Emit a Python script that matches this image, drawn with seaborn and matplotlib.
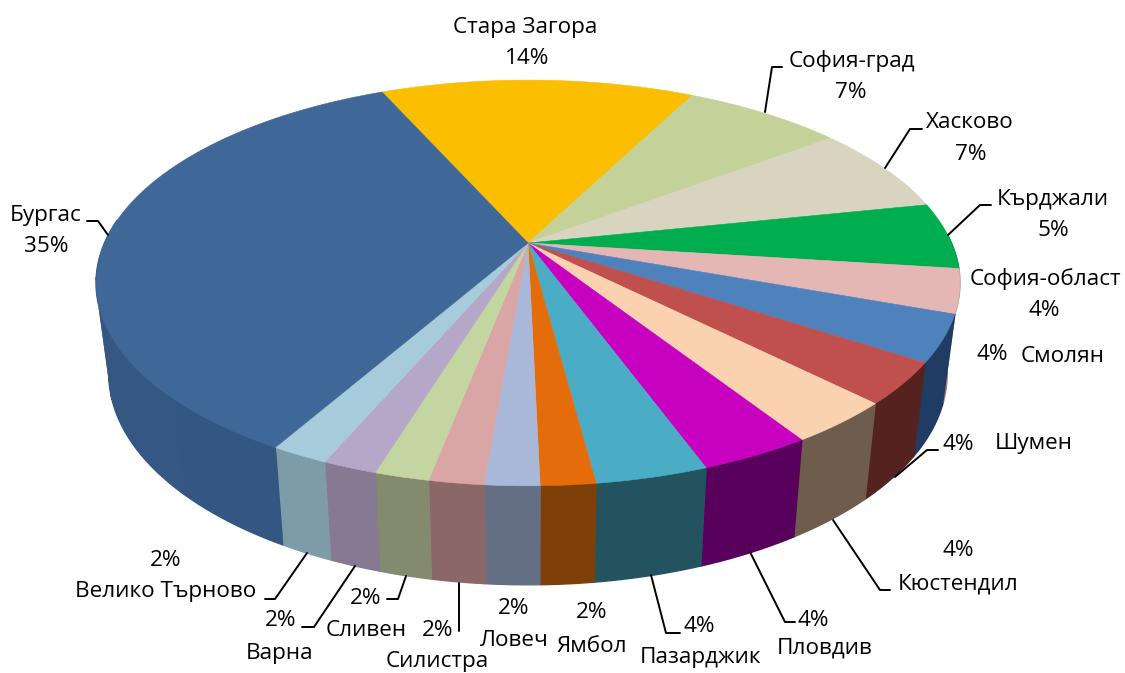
import numpy as np
import matplotlib
matplotlib.use('Agg')
import matplotlib.pyplot as plt
import seaborn as sns

# data, in the order of the slices (clockwise from the back)
regions = ['Стара Загора', 'София-град', 'Хасково', 'Кърджали', 'София-област', 'Смолян',
           'Шумен', 'Кюстендил', 'Пловдив', 'Пазарджик', 'Ямбол', 'Ловеч', 'Силистра',
           'Сливен', 'Варна', 'Велико Търново', 'Бургас']
shares = [14.2, 7.2, 7.0, 5.3, 3.5, 3.7, 3.3, 3.4, 3.5, 3.5, 1.7, 1.7, 1.7, 1.7, 1.7, 1.8, 35.1]
pct_labels = ['14%', '7%', '7%', '5%', '4%', '4%', '4%', '4%', '4%', '4%',
              '2%', '2%', '2%', '2%', '2%', '2%', '35%']

top_colors = ['#FBBE00', '#C4D29A', '#D8D4BF', '#00AE4F', '#E4B6B4', '#4F81BD', '#C0504D',
              '#FAD2B0', '#C800C0', '#4BACC6', '#E46C0A', '#A9B8D8', '#D9A5A5', '#C3D5A0',
              '#B4A7C7', '#A6CBDA', '#3F6797']
side_colors = ['#A98000', '#83906A', '#918E7F', '#007535', '#9A7B7A', '#1F3A5F', '#53211E',
               '#6B5A4A', '#55005A', '#24525F', '#7F3F08', '#656F84', '#8A6667', '#82896D',
               '#85778F', '#7C99A5', '#33547F']

sns.set_theme(style='white')
plt.rcParams['font.family'] = ['Open Sans', 'DejaVu Sans']

# perspective of the pie
cx = 528
apex_y = 243
start_angle = 114
persp = 0.197


def project(theta, width, height, y0):
    u, v = np.cos(theta), np.sin(theta)
    w = 1 + persp * v
    return cx + width * u / w, y0 - height * v / w


def top_rim(theta):
    return project(theta, 423.5, 195, apex_y)


def low_rim(theta):
    return project(theta, 411, 203, 332)


fig, ax = plt.subplots(figsize=(11.25, 6.73), dpi=100)
fig.subplots_adjust(0, 0, 1, 1)
ax.set_xlim(0, 1125)
ax.set_ylim(673, 0)
ax.axis('off')

tops = sns.color_palette(top_colors)
sides = sns.color_palette(side_colors)
edges = start_angle - np.cumsum([0] + shares) / sum(shares) * 360

# walls first, only the front part can be seen
for i in range(len(shares)):
    a0, a1 = edges[i], edges[i + 1]
    n = max(1, int(abs(a1 - a0) / 8))
    steps = np.radians(np.linspace(a0, a1, n + 1))
    for j in range(n):
        th = np.linspace(steps[j], steps[j + 1], 12)
        if np.sin(th[5]) > 0.05:
            continue
        # slight banding, the wall gets lighter towards the sides
        shade = 1 + 0.04 * abs(np.cos(th[5]))
        col = np.clip(np.array(sides[i]) * shade, 0, 1)
        xt, yt = top_rim(th)
        xb, yb = low_rim(th)
        ax.fill(np.r_[xt, xb[::-1]], np.r_[yt, yb[::-1]], facecolor=col, edgecolor=col, lw=1.0, zorder=2)

# top of the pie
for i in range(len(shares)):
    th = np.radians(np.linspace(edges[i], edges[i + 1], 80))
    xt, yt = top_rim(th)
    ax.fill(np.r_[cx, xt], np.r_[apex_y, yt], color=tops[i], lw=0.4, zorder=3)

# labels: name position, percent position
label_pos = {
    'Стара Загора': ((525, 26), (527, 58)),
    'София-град': ((852, 60), (851, 92)),
    'Хасково': ((970, 122), (971, 153)),
    'Кърджали': ((1053, 198), (1053, 229)),
    'София-област': ((1045, 278), (1044, 310)),
    'Смолян': ((1063, 355), (992, 354)),
    'Шумен': ((1034, 443), (958, 443)),
    'Кюстендил': ((958, 583), (958, 550)),
    'Пловдив': ((825, 647), (813, 620)),
    'Пазарджик': ((700, 657), (699, 626)),
    'Ямбол': ((592, 646), (592, 612)),
    'Ловеч': ((514, 640), (514, 608)),
    'Силистра': ((437, 660), (438, 629)),
    'Сливен': ((366, 630), (366, 598)),
    'Варна': ((280, 652), (281, 620)),
    'Велико Търново': ((166, 591), (166, 559)),
    'Бургас': ((46, 214), (46, 246)),
}
for name, pct in zip(regions, pct_labels):
    p_name, p_pct = label_pos[name]
    ax.text(p_name[0], p_name[1] + 1, name, ha='center', va='center', fontsize=16.2, color='black', zorder=5)
    ax.text(p_pct[0], p_pct[1] + 1, pct, ha='center', va='center', fontsize=16.2, color='black', zorder=5)

leaders = [
    [(765, 112), (772, 67), (782, 67)],
    [(885, 168), (910, 129), (922, 129)],
    [(948, 235), (980, 205), (991, 205)],
    [(895, 477), (927, 450), (938, 450)],
    [(833, 520), (880, 590), (890, 590)],
    [(750, 552), (785, 622), (795, 622)],
    [(651, 575), (666, 633), (680, 633)],
    [(459, 583), (459, 631)],
    [(406, 576), (398, 599), (387, 599)],
    [(355, 566), (314, 627), (302, 627)],
    [(307, 553), (275, 599), (265, 599)],
    [(108, 235), (98, 221), (87, 221)],
]
for line in leaders:
    xs, ys = zip(*line)
    ax.plot(xs, ys, color='black', lw=1.4, zorder=4)

fig.savefig('out.png', dpi=100)
